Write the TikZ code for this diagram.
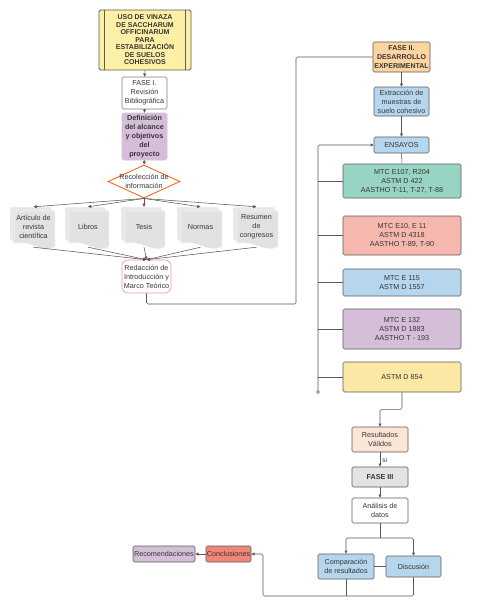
\documentclass[tikz,border=0pt]{standalone}
\usepackage{fontspec}
\setmainfont{Liberation Sans}
\usetikzlibrary{shapes.geometric,arrows.meta,calc}
\definecolor{txt}{HTML}{363636}
\definecolor{bord}{HTML}{5C5C5C}
\definecolor{lin}{HTML}{5A5A5A}
\definecolor{cTitle}{HTML}{FDF0A6}
\definecolor{cPurple}{HTML}{D5BED8}
\definecolor{cPeach}{HTML}{FCD49F}
\definecolor{cBlue}{HTML}{B6D6ED}
\definecolor{cTeal}{HTML}{98D4C3}
\definecolor{cSalmon}{HTML}{F6B7AE}
\definecolor{cYellow}{HTML}{FCE8A5}
\definecolor{cLightPeach}{HTML}{FCE5D7}
\definecolor{cGray}{HTML}{E3E3E3}
\definecolor{cRed}{HTML}{EF8678}
\definecolor{cOrange}{HTML}{F26A24}
\definecolor{cPink}{HTML}{E99A9A}
\definecolor{cDoc}{HTML}{E2E2E2}
\newcommand\docpage[4]{%
  \filldraw[fill=cDoc, draw=white, line width=0.5pt] ({#1},{#2}) -- ({#3},{#2}) -- ({#3},{(#4)-0.08*((#4)-(#2))})
   .. controls ({(#3)-0.3*((#3)-(#1))},{(#4)+0.12*((#4)-(#2))}) and ({(#1)+0.35*((#3)-(#1))},{(#4)-0.3*((#4)-(#2))}) .. ({#1},{(#4)-0.15*((#4)-(#2))}) -- cycle;}
\newcommand\mdoc[6]{%
  \docpage{#2}{#3}{(#2)+(#4)-4}{(#3)+(#5)-4}
  \docpage{(#2)+2}{(#3)+2}{(#2)+(#4)-2}{(#3)+(#5)-2}
  \docpage{(#2)+4}{(#3)+4}{(#2)+(#4)}{(#3)+(#5)}
  \node[doctext, minimum width={(#4)-2}, minimum height={(#5)-3}] (#1) at ({(#2)+(#4)/2+1},{(#3)+(#5)/2-1.5}) {#6};}
\begin{document}
\begin{tikzpicture}[x=1pt,y=-1pt,
  font=\fontsize{7.2}{9}\selectfont, text=txt,
  conn/.style={draw=lin, line width=0.55pt, rounded corners=1.5pt},
  arr/.style={conn, -{Triangle[length=3.2pt,width=3pt]}},
  box/.style={draw=bord, line width=0.6pt, rounded corners=1.5pt, align=center, inner sep=0pt, text=txt},
  doctext/.style={inner sep=0pt, align=center, text=txt},
  bold/.style={font=\bfseries\fontsize{7.2}{9}\selectfont}]
\useasboundingbox[fill=white] (0,0) rectangle (481,603);

% left column
\node[box, fill=cTitle, line width=0.8pt, minimum width=92, minimum height=60, font=\bfseries\fontsize{7}{7.5}\selectfont] (title) at (145,40)
  {USO DE VINAZA\\DE SACCHARUM\\OFFICINARUM\\PARA\\ESTABILIZACIÓN\\DE SUELOS\\COHESIVOS};
\draw[bord, line width=0.6pt] ([xshift=6]title.north west) -- ([xshift=6]title.south west);
\draw[bord, line width=0.6pt] ([xshift=-6]title.north east) -- ([xshift=-6]title.south east);

\node[box, fill=white, draw=bord!80, minimum width=45, minimum height=32] (fase1) at (144.5,93) {FASE I.\\Revisión\\Bibliográfica};
\node[box, fill=cPurple, draw=cPurple, bold, minimum width=45, minimum height=47] (defin) at (144.5,136.5) {Definición\\del alcance\\y objetivos\\del\\proyecto};
\node[diamond, draw=cOrange, line width=0.9pt, fill=white, minimum width=72, minimum height=33, inner sep=0pt] (diam) at (144,181.5) {};
\node[doctext] (diamtxt) at (diam) {Recolección de\\información};

\mdoc{art}{10}{207}{45}{43}{Artículo de\\revista\\científica}
\mdoc{lib}{65}{207}{44}{43}{Libros}
\mdoc{tes}{121}{207}{44}{43}{Tesis}
\mdoc{nor}{177}{207}{45}{43}{Normas}
\mdoc{resu}{233}{207}{45}{43}{Resumen\\de\\congresos}

\node[box, draw=cPink, fill=white, rounded corners=6pt, minimum width=49, minimum height=33] (redac) at (146.5,276.5) {Redacción de\\Introducción y\\Marco Teórico};

\draw[arr] (title.south) -- (fase1.north);
\draw[arr] (fase1.south) -- (defin.north);
\draw[arr] (defin.south) -- (diam.north);
\foreach \d in {art,lib,tes,nor,resu} {
  \draw[arr] (diam.south) -- (\d.north);
  \draw[arr] (\d.south) -- (redac.north);
}

% right column
\node[box, fill=cPeach, font=\bfseries\fontsize{7}{9}\selectfont, minimum width=57, minimum height=30] (fase2) at (401.5,57) {FASE II.\\DESARROLLO\\EXPERIMENTAL};
\coordinate (c1) at (296,304);
\draw[conn] (redac.south) |- (c1) |- (fase2.west);

\node[box, fill=cBlue, minimum width=55, minimum height=29] (extr) at (401.5,101.5) {Extracción de\\muestras de\\suelo cohesivo};
\node[box, fill=cBlue, minimum width=55, minimum height=16] (ens) at (401.5,145) {ENSAYOS};
\draw[arr] (fase2.south) -- (extr.north);
\draw[arr] (extr.south) -- (ens.north);

\node[box, fill=cTeal, minimum width=118, minimum height=34] (b1) at (402,181) {MTC E107, R204\\ASTM D 422\\AASTHO T-11, T-27, T-88};
\node[box, fill=cSalmon, minimum width=118, minimum height=39] (b2) at (402,235.5) {MTC E10, E 11\\ASTM D 4318\\AASTHO T-89, T-90};
\node[box, fill=cBlue, minimum width=118, minimum height=27] (b3) at (402,282.5) {MTC E 115\\ASTM D 1557};
\node[box, fill=cPurple, minimum width=118, minimum height=40] (b4) at (402,329) {MTC E 132\\ASTM D 1883\\AASTHO T - 193};
\node[box, fill=cYellow, minimum width=118, minimum height=30] (b5) at (402,377) {ASTM D 854};
\draw[conn] (ens.south) -- (b1.north);

\node[circle, draw=lin, fill=white, line width=0.5pt, inner sep=0pt, minimum size=3pt] (cb) at (318,392) {};
\draw[arr] (cb.north) |- (ens.west);
\foreach \b in {b1,b2,b3,b4,b5} \draw[conn] (\b.west -| cb) -- (\b.west);

\node[box, fill=cLightPeach, minimum width=56, minimum height=25] (res) at (380,439.5) {Resultados\\Válidos};
\node[box, fill=cGray, bold, minimum width=56, minimum height=20] (f3) at (380,477) {FASE III};
\node[box, fill=white, minimum width=56, minimum height=25] (anal) at (380,510.5) {Análisis de\\datos};
\draw[arr] (b5.south) -- ++(0,17) -| (res.north);
\draw[arr] (res.south) -- node[right, inner sep=2pt, font=\fontsize{6.5}{8}\selectfont, yshift=-1] (si) {si} (f3.north);
\draw[arr] (f3.south) -- (anal.north);

\node[box, fill=cBlue, minimum width=56, minimum height=25] (comp) at (346,566.5) {Comparación\\de resultados};
\node[box, fill=cBlue, minimum width=55, minimum height=21] (disc) at (413.5,566.5) {Discusión};
\coordinate (split) at (380,538);
\draw[conn] (anal.south) -- (split);
\draw[arr] (split) -| (comp.north);
\draw[arr] (split) -| (disc.north);
\draw[conn] (comp.east) -- (disc.west);

\node[box, fill=cRed, minimum width=45, minimum height=16] (concl) at (228.5,554) {Conclusiones};
\node[box, fill=cPurple, minimum width=62, minimum height=16] (recom) at (164,554) {Recomendaciones};
\coordinate (bl) at (263,596);
\draw[conn] (comp.south) -- (comp.south |- bl);
\draw[arr] (disc.south) |- (bl) |- (concl.east);
\draw[arr] (concl.west) -- (recom.east);
\end{tikzpicture}
\end{document}
